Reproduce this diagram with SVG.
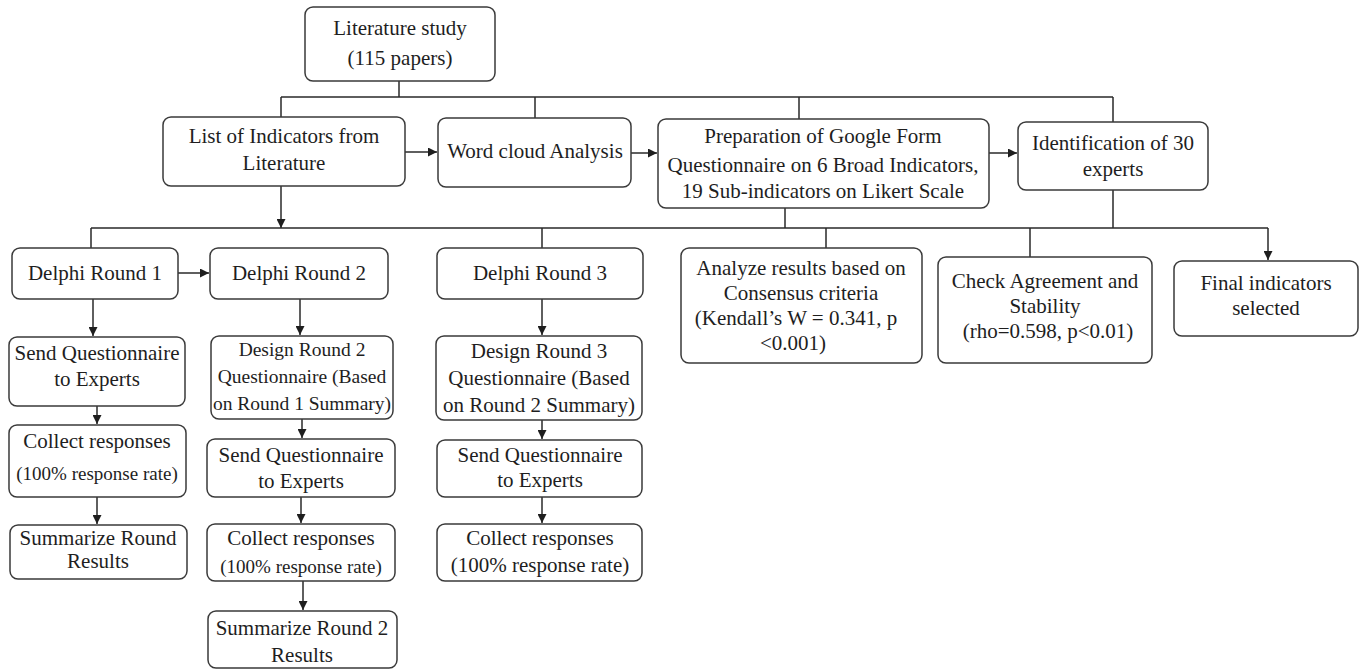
<svg xmlns="http://www.w3.org/2000/svg" width="1360" height="669" viewBox="0 0 1360 669">
<style>
.box{fill:#fff;stroke:#3a3a3a;stroke-width:1.5}
text{font-family:"Liberation Serif","Times New Roman",serif;font-size:21px;fill:#1e1e1e;text-anchor:middle}
.s{font-size:19px}
.m{font-size:19.5px}
.c{fill:none;stroke:#2a2a2a;stroke-width:1.5}
</style>
<defs>
<marker id="ah" viewBox="0 0 10 10" refX="10" refY="5" markerWidth="9" markerHeight="9" markerUnits="userSpaceOnUse" orient="auto">
<path d="M0,0 L10,5 L0,10 z" fill="#1e1e1e"/>
</marker>
</defs>
<rect width="1360" height="669" fill="#fff"/>
<g id="connectors">
<path class="c" d="M399 81 V97 M281 97 H1113 M281 97 V117 M535 97 V118 M799 97 V119 M1113 97 V122"/>
<path class="c" d="M405 152 H437" marker-end="url(#ah)"/>
<path class="c" d="M631 153 H657" marker-end="url(#ah)"/>
<path class="c" d="M989 153 H1017" marker-end="url(#ah)"/>
<path class="c" d="M281 186 V228" marker-end="url(#ah)"/>
<path class="c" d="M785 208 V228 M1113 190 V228 M91 228 H1268 M91 228 V248 M542 228 V248 M826 228 V248 M1030 228 V257"/>
<path class="c" d="M1268 228 V260" marker-end="url(#ah)"/>
<path class="c" d="M178 273 H209" marker-end="url(#ah)"/>
<path class="c" d="M93 299 V336" marker-end="url(#ah)"/>
<path class="c" d="M97 406 V424" marker-end="url(#ah)"/>
<path class="c" d="M97 497 V524" marker-end="url(#ah)"/>
<path class="c" d="M300 299 V335" marker-end="url(#ah)"/>
<path class="c" d="M302 419 V438" marker-end="url(#ah)"/>
<path class="c" d="M301 497 V523" marker-end="url(#ah)"/>
<path class="c" d="M303 581 V610" marker-end="url(#ah)"/>
<path class="c" d="M542 299 V335" marker-end="url(#ah)"/>
<path class="c" d="M542 420 V439" marker-end="url(#ah)"/>
<path class="c" d="M542 497 V523" marker-end="url(#ah)"/>
</g>
<g id="literature-study"><rect class="box" x="305" y="7" width="190" height="74" rx="8"/><text x="400" y="35">Literature study</text><text x="400" y="65">(115 papers)</text></g>
<g id="list-indicators"><rect class="box" x="163" y="117" width="242" height="69" rx="8"/><text x="284" y="143">List of Indicators from</text><text x="284" y="170">Literature</text></g>
<g id="word-cloud"><rect class="box" x="438" y="118" width="193" height="69" rx="8"/><text x="535" y="158">Word cloud Analysis</text></g>
<g id="google-form"><rect class="box" x="658" y="119" width="331" height="89" rx="8"/><text x="823" y="143">Preparation of Google Form</text><text x="823" y="172">Questionnaire on 6 Broad Indicators,</text><text x="823" y="198">19 Sub-indicators on Likert Scale</text></g>
<g id="identification"><rect class="box" x="1018" y="122" width="190" height="68" rx="8"/><text x="1113" y="150">Identification of 30</text><text x="1113" y="176">experts</text></g>
<g id="delphi-1"><rect class="box" x="12" y="248" width="166" height="51" rx="8"/><text x="95" y="280">Delphi Round 1</text></g>
<g id="delphi-2"><rect class="box" x="210" y="248" width="178" height="51" rx="8"/><text x="299" y="280">Delphi Round 2</text></g>
<g id="delphi-3"><rect class="box" x="437" y="248" width="206" height="51" rx="8"/><text x="540" y="280">Delphi Round 3</text></g>
<g id="analyze"><rect class="box" x="681" y="248" width="241" height="115" rx="8"/><text x="801" y="275">Analyze results based on</text><text x="801" y="300">Consensus criteria</text><text x="796" y="325">(Kendall’s W = 0.341, p</text><text x="793" y="350">&lt;0.001)</text></g>
<g id="check-agreement"><rect class="box" x="938" y="257" width="214" height="106" rx="8"/><text x="1045" y="288">Check Agreement and</text><text x="1045" y="313">Stability</text><text x="1048" y="338">(rho=0.598, p&lt;0.01)</text></g>
<g id="final-indicators"><rect class="box" x="1174" y="261" width="184" height="75" rx="8"/><text x="1266" y="290">Final indicators</text><text x="1266" y="315">selected</text></g>
<g id="r1-send"><rect class="box" x="9" y="337" width="176" height="69" rx="8"/><text x="97" y="360">Send Questionnaire</text><text x="97" y="386">to Experts</text></g>
<g id="r1-collect"><rect class="box" x="9" y="425" width="177" height="72" rx="8"/><text x="97" y="448">Collect responses</text><text class="s" x="97" y="480">(100% response rate)</text></g>
<g id="r1-summarize"><rect class="box" x="10" y="525" width="177" height="54" rx="8"/><text x="98" y="545">Summarize Round</text><text x="98" y="568">Results</text></g>
<g id="r2-design"><rect class="box" x="211" y="336" width="182" height="83" rx="8"/><text class="m" x="302" y="356">Design Round 2</text><text class="m" x="302" y="383">Questionnaire (Based</text><text class="m" x="302" y="410">on Round 1 Summary)</text></g>
<g id="r2-send"><rect class="box" x="207" y="439" width="188" height="58" rx="8"/><text x="301" y="462">Send Questionnaire</text><text x="301" y="488">to Experts</text></g>
<g id="r2-collect"><rect class="box" x="207" y="524" width="188" height="57" rx="8"/><text x="301" y="545">Collect responses</text><text class="s" x="301" y="573">(100% response rate)</text></g>
<g id="r2-summarize"><rect class="box" x="208" y="611" width="189" height="57" rx="8"/><text x="302" y="635">Summarize Round 2</text><text x="302" y="662">Results</text></g>
<g id="r3-design"><rect class="box" x="436" y="336" width="206" height="84" rx="8"/><text x="539" y="358">Design Round 3</text><text x="539" y="385">Questionnaire (Based</text><text x="539" y="412">on Round 2 Summary)</text></g>
<g id="r3-send"><rect class="box" x="437" y="440" width="205" height="57" rx="8"/><text x="540" y="462">Send Questionnaire</text><text x="540" y="487">to Experts</text></g>
<g id="r3-collect"><rect class="box" x="437" y="524" width="205" height="57" rx="8"/><text x="540" y="545">Collect responses</text><text x="540" y="572">(100% response rate)</text></g>
</svg>
